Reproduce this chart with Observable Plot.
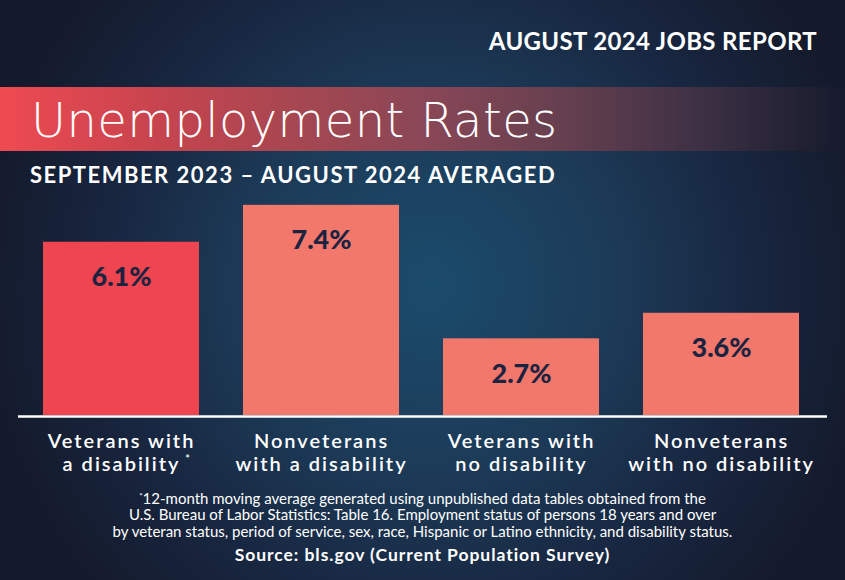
<!DOCTYPE html>
<html>
<head>
<meta charset="utf-8">
<script src="https://cdn.jsdelivr.net/npm/d3@7"></script>
<script src="https://cdn.jsdelivr.net/npm/@observablehq/plot@0.6"></script>
<style>
  html, body { margin: 0; padding: 0; background: #141a2b; }
  #wrap {
    position: relative; width: 845px; height: 580px; overflow: hidden;
    background: radial-gradient(ellipse 450px 460px at 430px 285px, #1b4b6c 0%, #1c3b58 40%, #182640 72%, #141a2b 100%);
    color: #fff;
  }
  .abs { position: absolute; white-space: nowrap; line-height: 1; }
  #report { right: 28px; top: 26px; font: 700 24px "Lato"; letter-spacing: 0.35px; }
  #band { left: 0; top: 87px; width: 845px; height: 64px;
    background: linear-gradient(to right, #ef4a52 0%, #c8444e 18%, #a44751 36%, #8a4757 50%, #67404f 66%, #3d3044 83%, #151a2c 100%); }
  #title { left: 31px; top: 92px; font: 200 48px "DejaVu Sans"; letter-spacing: 0.4px; }
  #subtitle { left: 30px; top: 161px; font: 700 22px "Lato"; letter-spacing: 1.5px; }
  #chart { position: absolute; left: 0; top: 190px; }
  #foot { left: 0; width: 845px; top: 488px; text-align: center; font: 400 15px "Lato"; line-height: 16.3px; white-space: normal; }
  #source { left: 0; width: 845px; top: 544px; text-align: center; font: 700 17.5px "Lato"; letter-spacing: 0.95px; }
  sup { font-size: 8px; vertical-align: 5px; }
</style>
</head>
<body>
<div id="wrap">
  <div id="band" class="abs"></div>
  <div id="report" class="abs">AUGUST 2024 JOBS REPORT</div>
  <div id="title" class="abs">Unemployment Rates</div>
  <div id="subtitle" class="abs">SEPTEMBER 2023 – AUGUST 2024 AVERAGED</div>
  <div id="chart"></div>
  <div id="foot" class="abs"><sup>*</sup>12-month moving average generated using unpublished data tables obtained from the<br>U.S. Bureau of Labor Statistics: Table 16. Employment status of persons 18 years and over<br>by veteran status, period of service, sex, race, Hispanic or Latino ethnicity, and disability status.</div>
  <div id="source" class="abs">Source: bls.gov (Current Population Survey)</div>
</div>
<script>
const categories = [
  "Veterans with\na disability",
  "Nonveterans\nwith a disability",
  "Veterans with\nno disability",
  "Nonveterans\nwith no disability"
];
const rates = [6.1, 7.4, 2.7, 3.6];
const valueLabels = ["6.1%", "7.4%", "2.7%", "3.6%"];
const highlight = [true, false, false, false];

const data = categories.map((c, i) => ({category: c, rate: rates[i], label: valueLabels[i], hi: highlight[i]}));

const chart = Plot.plot({
  width: 845,
  height: 290,
  marginLeft: 18,
  marginRight: 18,
  marginTop: 0,
  marginBottom: 0,
  style: { background: "transparent", overflow: "visible" },
  x: { domain: categories, range: [-3, 845], padding: 0.22, axis: null },
  y: { domain: [0, 7.5], range: [225, 225 - 7.5 * 28.4], axis: null },
  marks: [
    Plot.barY(data, { x: "category", y: "rate", fill: d => d.hi ? "#ef4550" : "#f2786c" }),
    Plot.ruleY([0], { stroke: "#ffffff", strokeWidth: 2.5, dy: 1 }),
    Plot.text(data, { x: "category", y: "rate", text: "label", lineAnchor: "bottom", dy: 44,
      fill: "#1b2340", fontSize: 27, fontWeight: 900, fontFamily: "Lato" }),
    Plot.text(data, { x: "category", y: 0, text: "category", lineAnchor: "top", dy: 16,
      lineHeight: 1.165, fill: "#ffffff", fontSize: 20, fontWeight: 600, fontFamily: "Lato",
      ariaDescription: "category-labels" }),
    Plot.text(data.filter(d => d.hi), { x: "category", y: 0, text: () => "*", dx: 66, dy: 43.5,
      fill: "#ffffff", fontSize: 11, fontWeight: 600, fontFamily: "Lato" })
  ]
});
d3.select(chart).selectAll('g[aria-description="category-labels"]').style("letter-spacing", "2px");
document.getElementById("chart").appendChild(chart);
</script>
</body>
</html>
